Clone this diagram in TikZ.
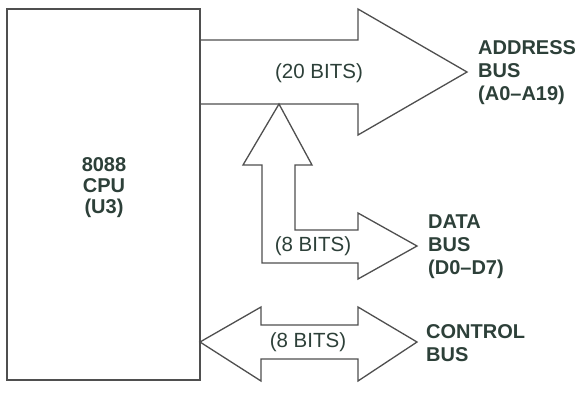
\documentclass[tikz,border=0pt]{standalone}
\usepackage{fontspec}
\setmainfont{Liberation Sans}
\definecolor{ink}{HTML}{2D4039}
\definecolor{linegray}{HTML}{4F4F4F}
\begin{document}
\begin{tikzpicture}[x=1pt,y=-1pt,
  outline/.style={draw=linegray,line width=1.3pt,line join=miter},
  buslabel/.style={anchor=west,align=left,text=ink,font=\fontsize{20}{23}\selectfont\bfseries,inner sep=0pt},
  bitslabel/.style={text=ink,font=\fontsize{20.5}{23}\selectfont,inner sep=0pt},
  cpulabel/.style={text=ink,align=center,font=\fontsize{20}{21}\selectfont\bfseries,inner sep=0pt}]
\useasboundingbox (0,0) rectangle (581,392);
\fill[white] (0,0) rectangle (581,392);
% CPU box
\draw[outline] (7,9) rectangle (200,380);
\node[cpulabel] (cpu) at (104,188) {8088\\CPU\\(U3)};
% address bus arrow
\coordinate (atip) at (467,72);
\draw[outline] (200,40) -- (358,40) -- (358,9) -- (atip) -- (358,135) -- (358,104) -- (200,104);
\node[bitslabel] (abits) at (319,73) {(20 BITS)};
\node[buslabel] (abus) at (478,73) {ADDRESS\\BUS\\(A0--A19)};
% data bus arrow
\coordinate (apex) at (279,104);
\coordinate (dtip) at (417,246);
\draw[outline] (apex) -- (312,165) -- (295,165) -- (295,230) -- (358,230) -- (358,213) -- (dtip) -- (358,279) -- (358,263) -- (262,263) -- (262,165) -- (243,165) -- cycle;
\node[bitslabel] (dbits) at (313,246) {(8 BITS)};
\node[buslabel] (dbus) at (428,247) {DATA\\BUS\\(D0--D7)};
% control bus arrow
\coordinate (cl) at (200,342);
\coordinate (cr) at (417,342);
\draw[outline] (cl) -- (261,307) -- (261,325) -- (358,325) -- (358,307) -- (cr) -- (358,381) -- (358,359) -- (261,359) -- (261,381) -- cycle;
\node[bitslabel] (cbits) at (308,342) {(8 BITS)};
\node[buslabel] (cbus) at (426,343.5) {CONTROL\\BUS};
\end{tikzpicture}
\end{document}
